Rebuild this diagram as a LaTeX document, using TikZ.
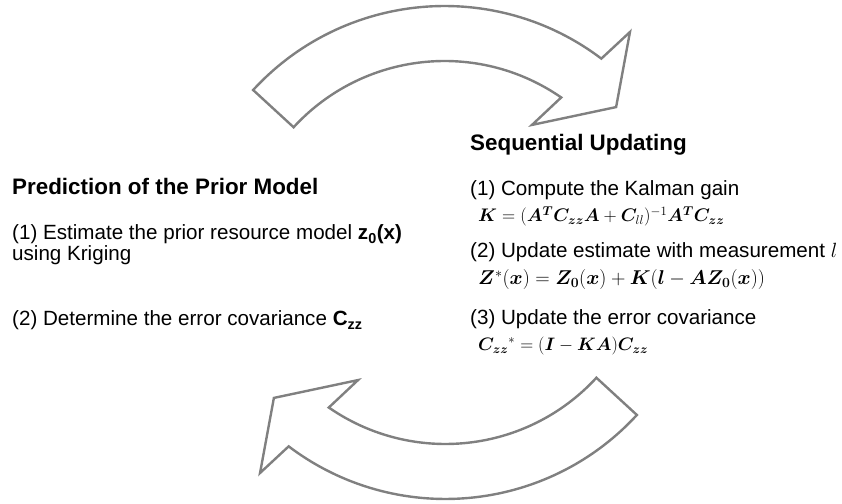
\RequirePackage{fix-cm}
\documentclass[tikz,border=0pt]{standalone}
\usepackage{amsmath}
\usepackage{amssymb}
\usepackage{bm}
\usepackage{xcolor}
\usepackage{fontspec}
\setmainfont{Liberation Sans}
\usepackage{tikz}

\definecolor{arrowgray}{RGB}{128,128,128}

\begin{document}
\begin{tikzpicture}[x=1pt, y=1pt,
    cyclearrow/.style={draw=arrowgray, line width=2.4pt, fill=white},
    headtext/.style={anchor=base west, inner sep=0pt, font=\fontsize{22.4}{24}\selectfont\bfseries},
    steptext/.style={anchor=base west, inner sep=0pt, font=\fontsize{20.6}{22}\selectfont},
    mathtext/.style={anchor=base west, inner sep=0pt, font=\fontsize{#1}{22}\selectfont},
    mathtext/.default=18.2]
\useasboundingbox (0,0) rectangle (842,503);

\foreach \rot/\cx/\cy in {0/444.5/237, 180/445.5/264}
    \draw[cyclearrow, shift={(\cx,\cy)}, rotate=\rot]
        (137.4:260) arc[start angle=137.4, end angle=52.9, radius=260]
        -- (51.6:298.6) -- (42.8:233.9) -- (58.2:166) -- (55.3:205)
        arc[start angle=55.3, end angle=137.4, radius=205] -- cycle;

\node[headtext] (prior) at (12,308) {Prediction of the Prior Model};
\node[steptext] (estimate) at (12,263) {(1) Estimate the prior resource model \textbf{z\textsubscript{0}(x)}};
\node[steptext] (kriging) at (12,242) {using Kriging};
\node[steptext] (covar) at (12,177) {(2) Determine the error covariance \textbf{C\textsubscript{zz}}};

\node[headtext] (seq) at (470,352) {Sequential Updating};
\node[steptext] (gain) at (470,307) {(1) Compute the Kalman gain};
\node[mathtext] (gaineq) at (478,281)
    {$\bm{K} = (\bm{A}^{\bm{T}} \bm{C}_{\bm{zz}} \bm{A} + \bm{C}_{ll})^{-1} \bm{A}^{\bm{T}} \bm{C}_{\bm{zz}}$};
\node[steptext] (update) at (470,245) {(2) Update estimate with measurement $l$};
\node[mathtext=20] (updateeq) at (478,218)
    {$\bm{Z}^{*}(\bm{x}) = \bm{Z}_{\bm{0}}(\bm{x}) + \bm{K}(\bm{l} - \bm{A}\bm{Z}_{\bm{0}}(\bm{x}))$};
\node[steptext] (errcov) at (470,178) {(3) Update the error covariance};
\node[mathtext=18] (errcoveq) at (478,152)
    {${\bm{C}_{\bm{zz}}}^{*} = (\bm{I} - \bm{K}\bm{A})\bm{C}_{\bm{zz}}$};
\end{tikzpicture}
\end{document}
